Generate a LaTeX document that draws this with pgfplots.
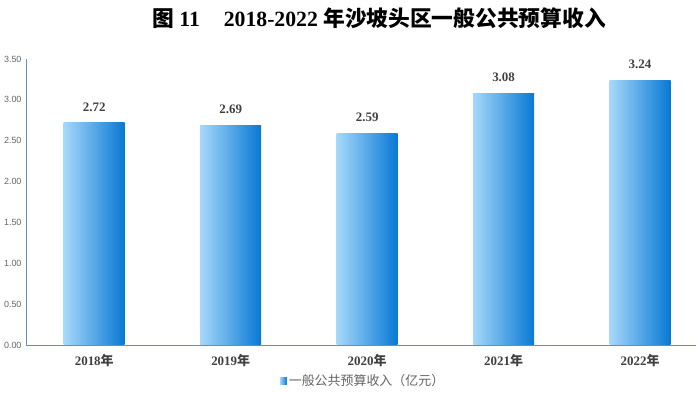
\documentclass[border=0pt]{standalone}
\usepackage{fontspec}
\setmainfont{Liberation Serif}
\setsansfont{Liberation Sans}
\newfontfamily\cjk{Noto Sans CJK SC}
\usepackage{pgfplots}
\pgfplotsset{compat=1.18}
\definecolor{barL}{RGB}{166,216,250}
\definecolor{barM}{RGB}{138,200,243}
\definecolor{barR}{RGB}{8,120,212}
\definecolor{axcol}{RGB}{100,140,205}
\definecolor{lbl}{RGB}{64,64,64}
\definecolor{tick}{RGB}{100,100,100}
\begin{document}
\begin{tikzpicture}
\path[use as bounding box] (0,0) rectangle (696bp,393bp);
\node[font={\bfseries\fontsize{21.8}{24}\selectfont}, text=black] at (379bp,375bp)
  {{\cjk\bfseries 图} 11\hspace{1.1em}2018-2022 {\cjk\bfseries 年沙坡头区一般公共预算收入}};
\begin{axis}[
  at={(26bp,48bp)}, anchor=south west,
  scale only axis, width=670bp, height=286bp,
  xmin=-0.5, xmax=4.41, ymin=0, ymax=3.5,
  axis x line*=bottom, axis y line*=left,
  axis line style={axcol, line width=0.8pt, -},
  xtick={0,1,2,3,4},
  xticklabels={2018{\cjk\bfseries 年},2019{\cjk\bfseries 年},2020{\cjk\bfseries 年},2021{\cjk\bfseries 年},2022{\cjk\bfseries 年}},
  xticklabel style={font=\bfseries\fontsize{13}{15}\selectfont, text=lbl, yshift=-6bp},
  ytick={0,0.5,1,1.5,2,2.5,3,3.5},
  yticklabel style={font=\sffamily\fontsize{9}{10}\selectfont, text=tick, xshift=-1bp},
  /pgf/number format/assume math mode=true,
  yticklabel={\pgfmathprintnumber[fixed,fixed zerofill,precision=2]{\tick}},
  major tick length=0pt,
  no markers,
  nodes near coords,
  every node near coord/.append style={font=\bfseries\fontsize{13}{15}\selectfont, text=lbl, yshift=8bp},
  nodes near coords style={/pgf/number format/.cd, fixed, fixed zerofill, precision=2, assume math mode=true},
  legend style={at={(0.503,-0.126)}, anchor=center, draw=none, fill=none,
    font=\fontsize{13}{15}\selectfont, text=tick},
  legend image code/.code={\shade[left color=barL, right color=barR] (0bp,-3.5bp) rectangle (7bp,3.5bp);},
  every axis plot/.append style={ybar, bar width=61bp, bar shift=0pt, draw=none, left color=barL, middle color=barM, right color=barR},
]
\addplot coordinates {(0,2.72)};
\addlegendentry{{\cjk 一般公共预算收入（亿元）}}
\addplot coordinates {(1,2.69)};
\addplot coordinates {(2,2.59)};
\addplot coordinates {(3,3.08)};
\addplot coordinates {(4,3.24)};
\end{axis}
\end{tikzpicture}
\end{document}
